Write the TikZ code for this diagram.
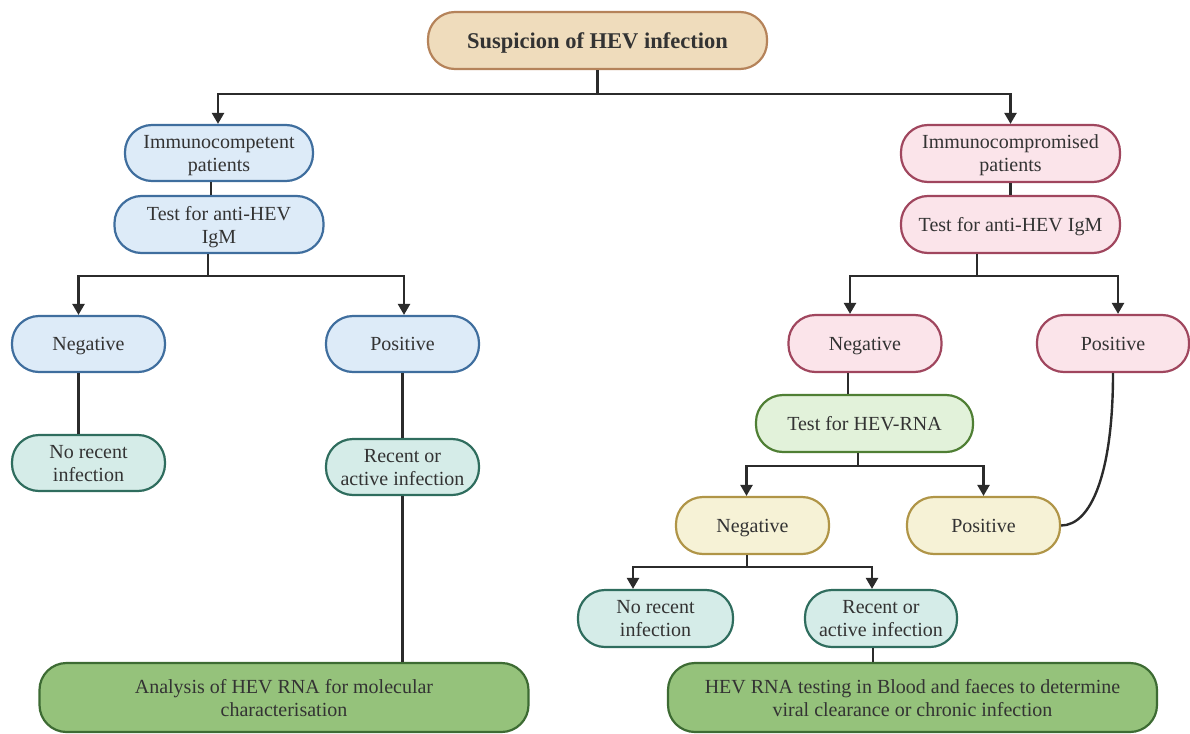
\documentclass[tikz,border=0pt]{standalone}
\usepackage{fontspec}
\setmainfont{Liberation Serif}
\usetikzlibrary{arrows.meta}
\definecolor{txt}{HTML}{333333}
\definecolor{lnc}{HTML}{2B2B2B}
\definecolor{beigeF}{HTML}{EFDCBC}\definecolor{beigeD}{HTML}{B5835A}
\definecolor{blueF}{HTML}{DDEBF8}\definecolor{blueD}{HTML}{3F6E9E}
\definecolor{pinkF}{HTML}{FBE4EA}\definecolor{pinkD}{HTML}{A0465E}
\definecolor{tealF}{HTML}{D5ECE8}\definecolor{tealD}{HTML}{2F6D5E}
\definecolor{lgF}{HTML}{E2F2DA}\definecolor{lgD}{HTML}{4F7F34}
\definecolor{yelF}{HTML}{F6F2D6}\definecolor{yelD}{HTML}{B09547}
\definecolor{dgF}{HTML}{95C27B}\definecolor{dgD}{HTML}{3D6B33}
\newcommand\myfs{\fontsize{20}{23}\selectfont}
\begin{document}
\begin{tikzpicture}[x=1pt,y=-1pt,
  box/.style={rectangle, rounded corners=27pt, draw, line width=2.2pt, align=center,
    minimum height=56pt, inner sep=2pt, text depth=0pt, text=txt, font=\myfs},
  beige/.style={box, fill=beigeF, draw=beigeD},
  blue/.style={box, fill=blueF, draw=blueD},
  pink/.style={box, fill=pinkF, draw=pinkD},
  teal/.style={box, fill=tealF, draw=tealD},
  lgreen/.style={box, fill=lgF, draw=lgD},
  yel/.style={box, fill=yelF, draw=yelD},
  dgreen/.style={box, fill=dgF, draw=dgD},
  line/.style={draw=lnc, line width=2.4pt},
  arr/.style={line, -{Triangle[length=11pt,width=12pt]}}]
\useasboundingbox (0,0) rectangle (1190,733);
% nodes
\node[beige, minimum width=339pt, minimum height=57pt] (title) at (597.5,40.5)
  {\bfseries\fontsize{22.5}{26}\selectfont Suspicion of HEV infection};
\node[blue, minimum width=188pt] (icL) at (219,153) {Immunocompetent\\patients};
\node[blue, minimum width=209pt, minimum height=57pt] (tL) at (219,224.5) {Test for anti-HEV\\IgM};
\node[blue, minimum width=153pt] (negL) at (88.5,344) {Negative};
\node[blue, minimum width=153pt] (posL) at (402.5,344) {Positive};
\node[teal, minimum width=153pt] (norL) at (88.5,463) {No recent\\infection};
\node[teal, minimum width=153pt] (recL) at (402.5,467) {Recent or\\active infection};
\node[dgreen, minimum width=489pt, minimum height=69pt] (anaL) at (284,697.5)
  {Analysis of HEV RNA for molecular\\characterisation};
\node[pink, minimum width=219pt, minimum height=57pt] (icR) at (1010.5,153.5) {Immunocompromised\\patients};
\node[pink, minimum width=219pt, minimum height=57pt] (tR) at (1010.5,224.5) {Test for anti-HEV IgM};
\node[pink, minimum width=153pt, minimum height=57pt] (negR) at (865,343.5) {Negative};
\node[pink, minimum width=152pt, minimum height=57pt] (posR) at (1113,343.5) {Positive};
\node[lgreen, minimum width=217pt, minimum height=57pt] (rna) at (864.5,423.5) {Test for HEV-RNA};
\node[yel, minimum width=153pt, minimum height=57pt] (negY) at (752.5,525.5) {Negative};
\node[yel, minimum width=153pt, minimum height=57pt] (posY) at (983.5,525.5) {Positive};
\node[teal, minimum width=155pt, minimum height=57pt] (norR) at (655.5,618.5) {No recent\\infection};
\node[teal, minimum width=152pt, minimum height=57pt] (recR) at (881,618.5) {Recent or\\active infection};
\node[dgreen, minimum width=489pt, minimum height=69pt] (hevR) at (912.5,697.5)
  {HEV RNA testing in Blood and faeces to determine\\viral clearance or chronic infection};
% connectors
\draw[line] (title.south) -- ++(0,24) coordinate (j0);
\draw[arr] (j0) -| ([xshift=-1pt]icL.north);
\draw[arr] (j0) -| (icR.north);
% left branch
\coordinate (a1) at ([xshift=-8pt]icL.south);
\draw[line] (a1) -- (a1 |- tL.north);
\draw[line] ([xshift=-11pt]tL.south) -- ++(0,22) coordinate (j1);
\draw[arr] (j1) -| ([xshift=-10pt]negL.north);
\draw[arr] (j1) -| ([xshift=1.5pt]posL.north);
\coordinate (a2) at ([xshift=-10pt]negL.south);
\draw[line] (a2) -- (a2 |- norL.north);
\draw[line] (posL.south) -- (recL.north);
\draw[line] (recL.south) -- (recL.south |- anaL.north);
% right branch
\draw[line] (icR.south) -- (tR.north);
\draw[line] ([xshift=-33.5pt]tR.south) -- ++(0,22) coordinate (j2);
\draw[arr] (j2) -| ([xshift=-15pt]negR.north);
\draw[arr] (j2) -| ([xshift=5pt]posR.north);
\coordinate (a3) at ([xshift=-17pt]negR.south);
\draw[line] (a3) -- (a3 |- rna.north);
\draw[line] ([xshift=-6.5pt]rna.south) -- ++(0,13) coordinate (j3);
\draw[arr] (j3) -| ([xshift=-6pt]negY.north);
\draw[arr] (j3) -| (posY.north);
\draw[line] ([xshift=-5.5pt]negY.south) -- ++(0,12) coordinate (j4);
\draw[arr] (j4) -| ([xshift=-22.5pt]norR.north);
\draw[arr] (j4) -| ([xshift=-9pt]recR.north);
\coordinate (a4) at ([xshift=-8pt]recR.south);
\draw[line] (a4) -- (a4 |- hevR.north);
\draw[line] (posY.east) .. controls +(30,0) and +(0,100) .. (posR.south);
\end{tikzpicture}
\end{document}
